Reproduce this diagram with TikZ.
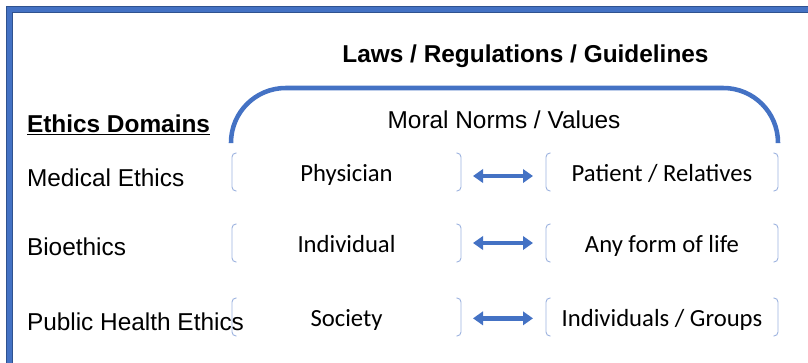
\documentclass[tikz,border=0pt]{standalone}
\usepackage{fontspec}
\setmainfont{Liberation Sans}
\newfontfamily\calibfont{Carlito}
\usetikzlibrary{arrows.meta}
\definecolor{accent}{HTML}{4472C4}
\definecolor{accentdark}{HTML}{2F528F}
\definecolor{bracketblue}{HTML}{9DB3DF}

% thin bracket pair drawn around a named node
\newcommand\bracketpair[1]{%
  \draw[brk] ([xshift=3.5pt]#1.north west) -- (#1.north west) -- (#1.south west) -- ([xshift=3.5pt]#1.south west);
  \draw[brk] ([xshift=-3.5pt]#1.north east) -- (#1.north east) -- (#1.south east) -- ([xshift=-3.5pt]#1.south east);
}

\begin{document}
\begin{tikzpicture}[x=0.75pt,y=-0.75pt,
  every node/.style={inner sep=0pt, outer sep=0pt},
  big/.style={font=\fontsize{18.3}{21}\selectfont},
  hdr/.style={font=\fontsize{18.3}{21}\selectfont\bfseries},
  lbl/.style={big, anchor=base west},
  pairbox/.style={font=\calibfont\fontsize{18.5}{21}\selectfont, text height=13.5pt, text depth=0pt, minimum height=28.5pt},
  brk/.style={draw=bracketblue, line width=0.7pt, rounded corners=3pt},
  link/.style={draw=accent, line width=3.6pt,
    {Triangle[length=7.5pt,width=10pt]}-{Triangle[length=7.5pt,width=10pt]},
    shorten <=9pt, shorten >=9.75pt},
]
\useasboundingbox (0,0) rectangle (808,362);

% outer frame (top and left edges)
\draw[accentdark, line width=4.6pt] (9.5,380) -- (9.5,9.5) -- (830,9.5);
\draw[accent, line width=3.4pt] (9.5,380) -- (9.5,9.5) -- (830,9.5);

% headings
\node[hdr, anchor=base] (laws) at (525.5,62) {Laws / Regulations / Guidelines};
\node[hdr, anchor=base west] (domains) at (27,132) {\underline{Ethics Domains}};

% arch spanning the relationships
\draw[accent, line width=3.4pt, rounded corners=41pt] (231,143) -- (231,88) -- (778,88) -- (778,143);
\node[big, anchor=base] (norms) at (504,128) {Moral Norms / Values};

% domain labels
\node[lbl] (med) at (27,186) {Medical Ethics};
\node[lbl] (bio) at (27,255) {Bioethics};
\node[lbl] (pub) at (27,330) {Public Health Ethics};

% relationship pairs
\node[pairbox, minimum width=171.75pt] (phys)  at (346.5,172) {Physician};
\node[pairbox, minimum width=174pt]    (pat)   at (662,172)   {Patient / Relatives};
\node[pairbox, minimum width=171.75pt] (indiv) at (346.5,243) {Individual};
\node[pairbox, minimum width=174pt]    (life)  at (662,243)   {Any form of life};
\node[pairbox, minimum width=171.75pt] (soc)   at (346.5,317) {Society};
\node[pairbox, minimum width=174pt]    (grp)   at (662,317)   {Individuals / Groups};

\foreach \n in {phys,pat,indiv,life,soc,grp} {\bracketpair{\n}}

\draw[link] ([yshift=-3pt]phys.east)  -- ([yshift=-3pt]pat.west);
\draw[link] ([yshift=0pt]indiv.east)  -- ([yshift=0pt]life.west);
\draw[link] ([yshift=-1pt]soc.east)   -- ([yshift=-1pt]grp.west);
\end{tikzpicture}
\end{document}
